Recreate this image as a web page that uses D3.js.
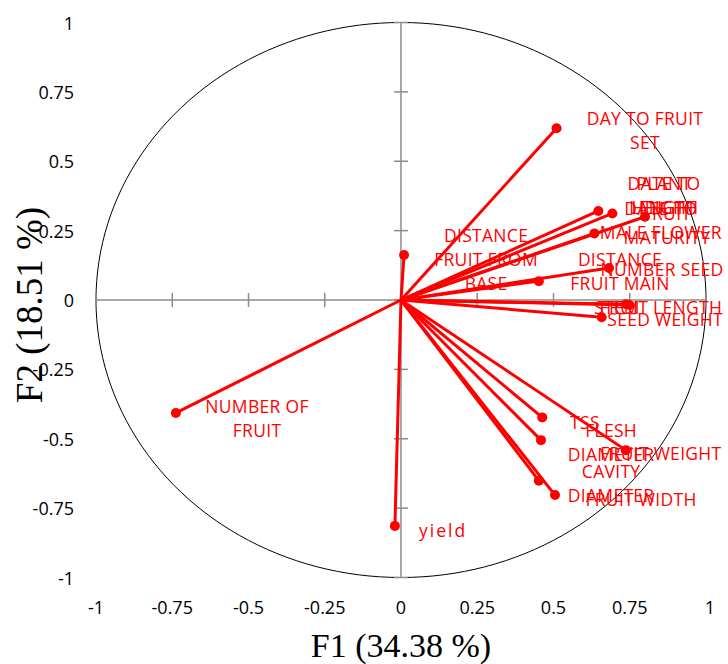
<!DOCTYPE html>
<html>
<head>
<meta charset="utf-8">
<script src="https://cdn.jsdelivr.net/npm/d3@7"></script>
<style>
  html, body { margin: 0; padding: 0; background: #ffffff; }
  svg { display: block; }
</style>
</head>
<body>
<svg id="chart" width="728" height="664"></svg>
<script>
// ---------- data ----------
const variables = [
  "DAY TO FRUIT SET", "DISTANCE FRUIT FROM BASE", "PLANT HEIGHT", "DATE TO LENGTH",
  "FRUIT MATURITY", "DATE TO MALE FLOWER", "NUMBER SEED", "DISTANCE FRUIT MAIN",
  "FRUIT LENGTH", "STEM", "SEED WEIGHT", "TSS", "FLESH DIAMETER", "FRUIT WEIGHT",
  "CAVITY DIAMETER", "FRUIT WIDTH", "NUMBER OF FRUIT", "yield"
];
const f1 = [0.510, 0.010, 0.647, 0.693, 0.800, 0.634, 0.682, 0.452, 0.749, 0.738, 0.658,
            0.463, 0.459, 0.737, 0.452, 0.505, -0.738, -0.020];
const f2 = [0.619, 0.162, 0.321, 0.312, 0.300, 0.240, 0.115, 0.068, -0.018, -0.015, -0.062,
            -0.423, -0.505, -0.541, -0.651, -0.703, -0.407, -0.814];
// label text lines (as wrapped in the reference)
const labelLines = [
  ["DAY TO FRUIT", "SET"], ["DISTANCE", "FRUIT FROM", "BASE"], ["PLANT", "HEIGHT"], ["DATE TO", "LENGTH"],
  ["FRUIT", "MATURITY"], ["DATE TO", "MALE FLOWER"], ["NUMBER SEED"], ["DISTANCE", "FRUIT MAIN"],
  ["FRUIT LENGTH"], ["STEM"], ["SEED WEIGHT"], ["TSS"], ["FLESH", "DIAMETER"], ["FRUIT WEIGHT"],
  ["CAVITY", "DIAMETER"], ["FRUIT WIDTH"], ["NUMBER OF", "FRUIT"], ["yield"]
];
// label block centres, in F1/F2 units
const labelF1 = [0.800, 0.279, 0.862, 0.862, 0.872, 0.852, 0.856, 0.718, 0.852, 0.708, 0.866,
                 0.603, 0.689, 0.852, 0.689, 0.787, -0.472, 0.138];
const labelF2 = [0.613, 0.148, 0.378, 0.378, 0.270, 0.290, 0.112, 0.103, -0.025, -0.025, -0.068,
                 -0.440, -0.512, -0.551, -0.659, -0.717, -0.425, -0.829];
const tickValues = [-1, -0.75, -0.5, -0.25, 0, 0.25, 0.5, 0.75, 1];
const tickLabels = ["-1", "-0.75", "-0.5", "-0.25", "0", "0.25", "0.5", "0.75", "1"];
const xTitle = "F1 (34.38 %)";
const yTitle = "F2 (18.51 %)";

// ---------- layout ----------
const svg = d3.select("#chart");
const x = d3.scaleLinear().domain([-1, 1]).range([96, 706]);
const y = d3.scaleLinear().domain([-1, 1]).range([577.5, 22.5]);
const red = "#ff0000";
const axisGrey = "#8c8c8c";

// correlation circle
const circ = d3.range(0, 361, 2).map(a => [Math.cos(a * Math.PI / 180), Math.sin(a * Math.PI / 180)]);
svg.append("path")
  .attr("d", d3.line().x(d => x(d[0])).y(d => y(d[1]))(circ))
  .attr("fill", "none").attr("stroke", "#000").attr("stroke-width", 1);

// axes through origin
const g = svg.append("g");
g.append("line").attr("x1", x(-1)).attr("x2", x(1)).attr("y1", y(0)).attr("y2", y(0))
  .attr("stroke", axisGrey).attr("stroke-width", 1.5);
g.append("line").attr("x1", x(0)).attr("x2", x(0)).attr("y1", y(-1)).attr("y2", y(1))
  .attr("stroke", axisGrey).attr("stroke-width", 1.5);
tickValues.forEach(v => {
  g.append("line").attr("x1", x(v)).attr("x2", x(v)).attr("y1", y(0) - 7).attr("y2", y(0) + 7)
    .attr("stroke", axisGrey).attr("stroke-width", 1.5);
  g.append("line").attr("x1", x(0) - 7).attr("x2", x(0) + 7).attr("y1", y(v)).attr("y2", y(v))
    .attr("stroke", axisGrey).attr("stroke-width", 1.5);
});

// tick labels
const tickFont = "'Open Sans', sans-serif";
tickValues.forEach((v, i) => {
  svg.append("text").attr("x", x(v) + (v === 1 ? 4 : 0)).attr("y", 607)
    .attr("text-anchor", "middle").attr("dominant-baseline", "central")
    .attr("font-family", tickFont).attr("font-size", 18).attr("fill", "#000")
    .text(tickLabels[i]);
  svg.append("text").attr("x", 74).attr("y", y(v))
    .attr("text-anchor", "end").attr("dominant-baseline", "central")
    .attr("font-family", tickFont).attr("font-size", 18).attr("fill", "#000")
    .text(tickLabels[i]);
});

// vectors
const vec = svg.append("g");
variables.forEach((name, i) => {
  vec.append("line").attr("x1", x(0)).attr("y1", y(0)).attr("x2", x(f1[i])).attr("y2", y(f2[i]))
    .attr("stroke", red).attr("stroke-width", 3);
});
variables.forEach((name, i) => {
  vec.append("circle").attr("cx", x(f1[i])).attr("cy", y(f2[i])).attr("r", 5).attr("fill", red);
});

// labels
const lineH = 24;
variables.forEach((name, i) => {
  const lines = labelLines[i];
  const cy = y(labelF2[i]) - (lines.length - 1) * lineH / 2;
  const t = svg.append("text")
    .attr("text-anchor", "middle")
    .attr("font-family", tickFont).attr("font-size", 17.5).attr("fill", red)
    .attr("letter-spacing", name === "yield" ? 2 : 0.3);
  lines.forEach((ln, k) => {
    t.append("tspan").attr("x", x(labelF1[i])).attr("y", cy + k * lineH)
      .attr("dominant-baseline", "central").text(ln);
  });
});

// axis titles
svg.append("text").attr("x", x(0)).attr("y", 657)
  .attr("text-anchor", "middle")
  .attr("font-family", "'Liberation Serif', 'Times New Roman', serif").attr("font-size", 34)
  .attr("fill", "#000").text(xTitle);
svg.append("text").attr("transform", `translate(42, ${y(0) + 5}) rotate(-90)`)
  .attr("text-anchor", "middle")
  .attr("font-family", "'Liberation Serif', 'Times New Roman', serif").attr("font-size", 37)
  .attr("fill", "#000").text(yTitle);
</script>
</body>
</html>
